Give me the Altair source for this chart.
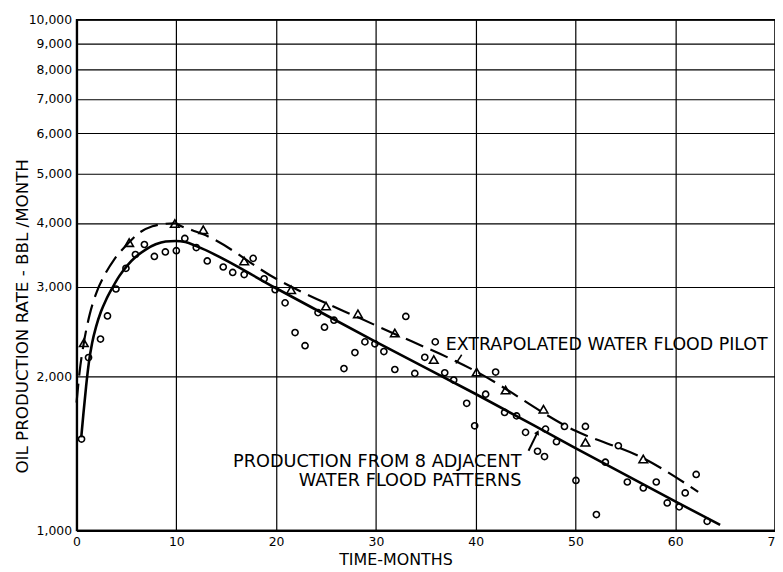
import altair as alt
import pandas as pd

# Production from 8 adjacent water flood patterns (circles)
circ_month = [0.5, 1.2, 2.4, 3.1, 3.95, 4.95, 5.9, 6.8, 7.8, 8.9, 10.0, 10.85, 12.0,
              13.1, 14.7, 15.65, 16.8, 17.7, 18.8, 19.9, 20.9, 21.9, 22.9, 24.2, 24.85,
              25.8, 26.8, 27.9, 28.9, 29.9, 30.8, 31.9, 33.0, 33.9, 34.9, 35.95, 36.9,
              37.8, 39.1, 39.9, 41.0, 42.0, 42.9, 44.1, 45.0, 46.2, 46.9, 47.0, 48.1,
              48.9, 50.05, 51.0, 52.1, 53.0, 54.3, 55.2, 56.8, 58.1, 59.2, 60.4, 61.0,
              62.1, 63.2]
circ_rate = [1510, 2180, 2370, 2630, 2970, 3260, 3470, 3630, 3440, 3510, 3530, 3730, 3580,
             3370, 3280, 3200, 3170, 3410, 3110, 2960, 2790, 2440, 2300, 2670, 2500,
             2580, 2075, 2230, 2340, 2320, 2240, 2066, 2624, 2030, 2183, 2340, 2036,
             1970, 1774, 1603, 1848, 2042, 1702, 1676, 1556, 1429, 1395, 1579, 1492,
             1598, 1253, 1598, 1074, 1360, 1465, 1244, 1211, 1244, 1132, 1112, 1184,
             1287, 1042]

# Water flood pilot (triangles)
tri_month = [0.73, 5.27, 9.85, 12.7, 16.8, 21.5, 25.0, 28.2, 31.9, 35.8, 40.1, 43.0,
             46.8, 51.0, 56.8]
tri_rate = [2330, 3660, 3990, 3880, 3370, 2960, 2750, 2655, 2436, 2161, 2042, 1883,
            1727, 1488, 1380]

# Solid fitted curve (production from 8 patterns)
fit_month = [0.47, 0.70, 0.96, 1.23, 1.56, 1.96, 2.45, 2.95, 3.62, 4.28, 5.1, 5.94,
             6.93, 7.93, 8.93, 9.92, 10.9, 12.07, 20, 30, 40, 50, 60, 64.5]
fit_rate = [1521, 1702, 1917, 2129, 2329, 2507, 2683, 2827, 2993, 3147, 3305, 3434,
            3548, 3633, 3679, 3688, 3671, 3599, 2980, 2340, 1850, 1450, 1140, 1025]

# Dashed curve (extrapolated water flood pilot)
pilot_month = [0.0, 0.3, 0.73, 1.3, 1.96, 2.8, 3.8, 5.0, 6.4, 7.6, 8.9, 9.9, 10.4,
               11.6, 12.7, 20, 30, 40, 50, 56.8, 62.3]
pilot_rate = [1780, 2040, 2330, 2640, 2910, 3160, 3400, 3620, 3840, 3940, 3985, 3995,
              3950, 3870, 3800, 3110, 2520, 2050, 1567, 1385, 1190]

# Annotations
note_text = ["EXTRAPOLATED WATER FLOOD PILOT"]
note_month = [37.0]
note_rate = [2312]
prod_text = ["PRODUCTION FROM 8 ADJACENT", "WATER FLOOD PATTERNS"]
prod_month = [44.6, 44.6]
prod_rate = [1362, 1251]
arrow1_month = [38.6, 38.1]
arrow1_rate = [2208, 2133]
arrow2_month = [45.3, 46.2]
arrow2_rate = [1432, 1556]

x_ticks = [0, 10, 20, 30, 40, 50, 60, 70]
y_ticks = [1000, 2000, 3000, 4000, 5000, 6000, 7000, 8000, 9000, 10000]

FONT = "DejaVu Sans"

X = alt.X("month:Q",
          scale=alt.Scale(domain=[0, 70], nice=False, zero=False),
          axis=alt.Axis(values=x_ticks, title="TIME-MONTHS", titleX=321, titleY=29,
                        titleBaseline="middle", titleAlign="center", labelFlush=False))
Y = alt.Y("rate:Q",
          scale=alt.Scale(type="log", domain=[1000, 10000], nice=False),
          axis=alt.Axis(values=y_ticks, format=",", title="OIL PRODUCTION RATE - BBL /MONTH",
                        titleX=-54, titleY=298, titleAngle=270, titleAlign="center",
                        titleBaseline="middle", titleFontSize=16.8))

circ_df = pd.DataFrame({"month": circ_month, "rate": circ_rate})
tri_df = pd.DataFrame({"month": tri_month, "rate": tri_rate})
fit_df = pd.DataFrame({"month": fit_month, "rate": fit_rate})
pilot_df = pd.DataFrame({"month": pilot_month, "rate": pilot_rate})
note_df = pd.DataFrame({"month": note_month, "rate": note_rate, "t": note_text})
prod_df = pd.DataFrame({"month": prod_month, "rate": prod_rate, "t": prod_text})
a1_df = pd.DataFrame({"month": arrow1_month, "rate": arrow1_rate})
a2_df = pd.DataFrame({"month": arrow2_month, "rate": arrow2_rate})

fit_line = alt.Chart(fit_df).mark_line(color="black", strokeWidth=2.6,
                                       interpolate="monotone").encode(x=X, y=Y)
pilot_line = alt.Chart(pilot_df).mark_line(color="black", strokeWidth=2.2,
                                           strokeDash=[19, 8],
                                           interpolate="monotone").encode(x=X, y=Y)
circles = alt.Chart(circ_df).mark_point(shape="circle", filled=False, color="black",
                                        size=38, strokeWidth=1.6, opacity=1).encode(x=X, y=Y)
tris = alt.Chart(tri_df).mark_point(shape="triangle-up", filled=False, color="black",
                                    size=75, strokeWidth=1.6, opacity=1).encode(x=X, y=Y)
note = alt.Chart(note_df).mark_text(font=FONT, fontSize=17.5, align="left",
                                    baseline="middle", color="black").encode(x=X, y=Y, text="t:N")
prod = alt.Chart(prod_df).mark_text(font=FONT, fontSize=17.8, align="right",
                                    baseline="middle", color="black").encode(x=X, y=Y, text="t:N")
a1 = alt.Chart(a1_df).mark_line(color="black", strokeWidth=1.5).encode(x=X, y=Y)
a1_head = alt.Chart(a1_df.iloc[[1]]).mark_point(shape="triangle-up", filled=True, color="black",
                                                size=18, angle=212, opacity=1).encode(x=X, y=Y)
a2 = alt.Chart(a2_df).mark_line(color="black", strokeWidth=2).encode(x=X, y=Y)
a2_head = alt.Chart(a2_df.iloc[[1]]).mark_point(shape="triangle-up", filled=True, color="black",
                                                size=30, angle=26, opacity=1).encode(x=X, y=Y)

chart = alt.layer(fit_line, pilot_line, circles, tris, note, prod, a1, a1_head, a2, a2_head).properties(
    width=703, height=514,
    autosize=alt.AutoSizeParams(type="none"),
    padding={"left": 69, "top": 10, "right": 0, "bottom": 38},
    background="white",
).configure_view(
    stroke="black", strokeWidth=1.5
).configure_axis(
    domainColor="black", domainWidth=2.2,
    gridColor="black", gridWidth=1.2, gridOpacity=1,
    ticks=False, tickSize=0,
    labelFont=FONT, labelFontSize=12.5, labelColor="black", labelPadding=5,
    titleFont=FONT, titleFontSize=16, titleColor="black", titleFontWeight="normal",
)

chart.save("out.html", embed_options={"renderer": "svg", "actions": False})
